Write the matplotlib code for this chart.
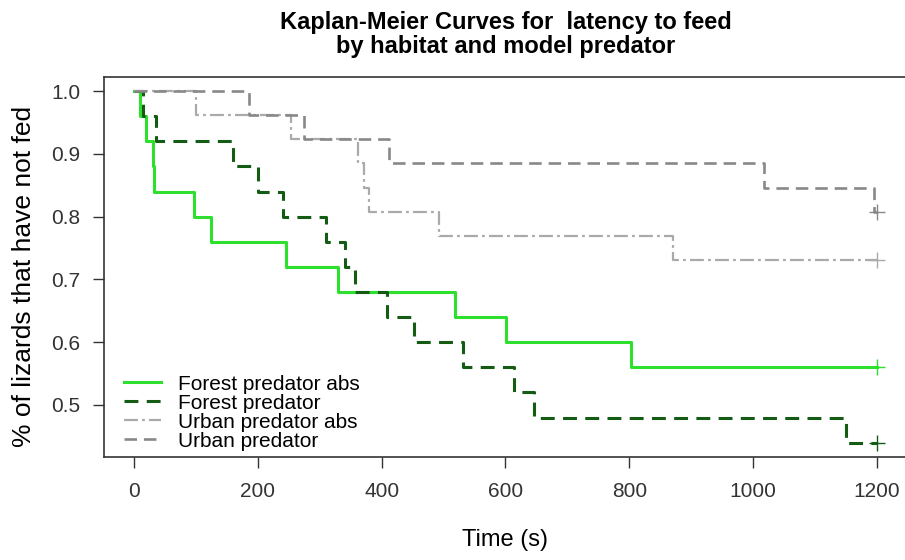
import matplotlib
matplotlib.use("Agg")
import matplotlib.pyplot as plt

plt.rcParams['font.family'] = ['Liberation Sans', 'DejaVu Sans']
plt.rcParams['lines.scale_dashes'] = False

# event times (s) and survival after each event
t_forest_abs = [10, 19, 30, 32, 97, 125, 246, 329, 519, 601, 802]
s_forest_abs = [0.96, 0.92, 0.88, 0.84, 0.80, 0.76, 0.72, 0.68, 0.64, 0.60, 0.56]

t_forest_pred = [15, 36, 160, 201, 240, 310, 341, 357, 408, 453, 531, 613, 646, 1150]
s_forest_pred = [0.96, 0.92, 0.88, 0.84, 0.80, 0.76, 0.72, 0.68, 0.64, 0.60,
                 0.56, 0.52, 0.48, 0.44]

t_urban_abs = [100, 254, 361, 372, 380, 493, 871]
s_urban_abs = [0.962, 0.923, 0.885, 0.846, 0.808, 0.769, 0.731]

t_urban_pred = [186, 275, 412, 1017, 1196]
s_urban_pred = [0.962, 0.923, 0.885, 0.846, 0.808]

t_end = 1200
labels = ["Forest predator abs", "Forest predator", "Urban predator abs", "Urban predator"]

fig = plt.figure(figsize=(9.05, 5.6), dpi=100)
ax = fig.add_axes([0.1153, 0.1845, 0.8865, 0.678])

series = [
    (t_forest_abs, s_forest_abs, '#2ee02e', 2.2, '-'),
    (t_forest_pred, s_forest_pred, '#145c14', 2.2, (0, (10, 6))),
    (t_urban_abs, s_urban_abs, '#aaaaaa', 1.6, (0, (10, 3, 2, 3))),
    (t_urban_pred, s_urban_pred, '#888888', 1.9, (0, (9, 5))),
]

for (t, s, col, lw, ls), lab in zip(series, labels):
    xs = [0] + t + [t_end]
    ys = [1.0] + s + [s[-1]]
    ax.step(xs, ys, where='post', color=col, lw=lw, linestyle=ls, label=lab)
    ax.plot([t_end], [s[-1]], marker='+', ms=11, mew=1.0, color=col, linestyle='none')

ax.set_xlim(-48, 1248)
ax.set_ylim(0.4176, 1.0224)
ax.set_xticks([0, 200, 400, 600, 800, 1000, 1200])
ax.set_yticks([0.5, 0.6, 0.7, 0.8, 0.9, 1.0])
ax.set_yticklabels(["0.5", "0.6", "0.7", "0.8", "0.9", "1.0"])
ax.tick_params(direction='out', length=8, width=1, labelsize=15, colors='#333333', pad=10)
ax.tick_params(axis='y', pad=9)
for sp in ax.spines.values():
    sp.set_color('#333333')
    sp.set_linewidth(1.2)

ax.set_xlabel("Time (s)", fontsize=17)
ax.xaxis.set_label_coords(0.5, -0.19)
ax.set_ylabel("% of lizards that have not fed", fontsize=19)
ax.yaxis.set_label_coords(-0.085, 0.476)
ax.set_title("Kaplan-Meier Curves for  latency to feed\nby habitat and model predator",
             fontsize=17, fontweight='bold', pad=17, linespacing=1.05)

ax.legend(loc='lower left', bbox_to_anchor=(0.024, 0.016), frameon=False, fontsize=15,
          handlelength=1.8, labelspacing=0.0, handletextpad=0.8,
          borderaxespad=0, borderpad=0)

fig.savefig("out.png", dpi=100)
